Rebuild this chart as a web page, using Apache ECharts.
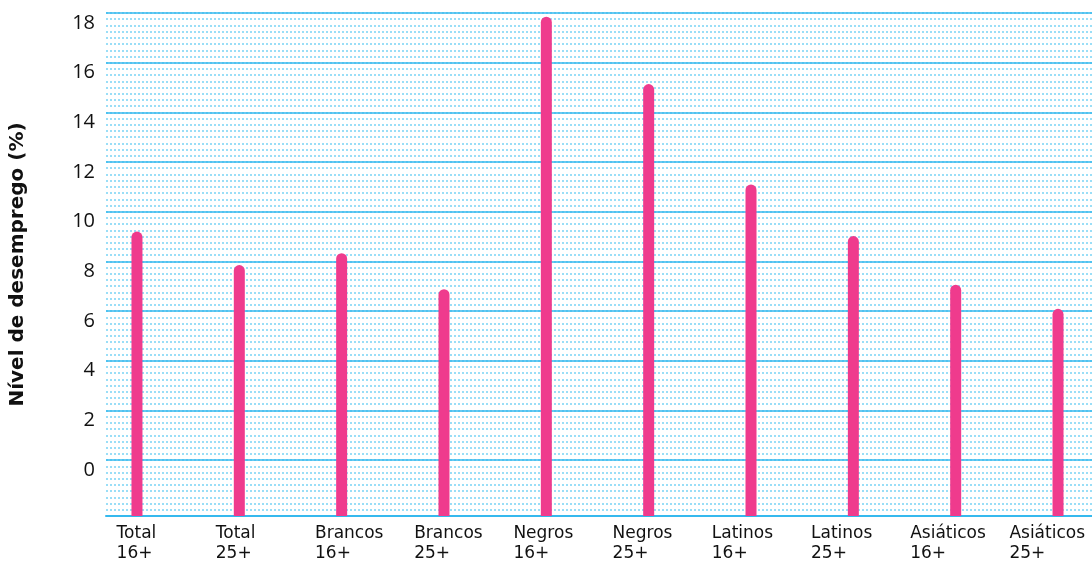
<!DOCTYPE html>
<html>
<head>
<meta charset="utf-8">
<script src="https://cdn.jsdelivr.net/npm/echarts@6/dist/echarts.min.js"></script>
<style>
  html, body { margin: 0; padding: 0; background: #fff; }
  #chart { width: 1092px; height: 563px; }
</style>
</head>
<body>
<div id="chart"></div>
<script>
const categories = ['Total\n16+', 'Total\n25+', 'Brancos\n16+', 'Brancos\n25+', 'Negros\n16+',
    'Negros\n25+', 'Latinos\n16+', 'Latinos\n25+', 'Asiáticos\n16+', 'Asiáticos\n25+'];
const rates = [9.2, 7.85, 8.33, 6.88, 17.85, 15.14, 11.1, 9.02, 7.06, 6.09];
const yMin = -2.25;
const yMax = 18;
const yStep = 0.25;

const font = '"DejaVu Sans", sans-serif';
const tickFont = '"Open Sans", sans-serif';
const pink = '#ef3b8d';
const blue = '#35b9ee';

let chart = echarts.init(document.querySelector('#chart'));

function isMajor(v) {
    return v >= 0 && Math.abs(v - Math.round(v / 2) * 2) < 1e-6;
}

// one colour per split line: solid blue only on 0, 2, 4 ... 18
let lineCount = Math.round((yMax - yMin) / yStep) + 1;
let majorColors = [];
for (let k = 0; k < lineCount; k++) {
    majorColors.push(isMajor(yMin + k * yStep) ? blue : 'rgba(0,0,0,0)');
}

let option = {
    animation: false,
    grid: [
        { left: 106, right: 0, top: 13, bottom: 47, outerBoundsMode: 'none' },
        { left: 85.8, width: 1023.4, top: 13, bottom: 47, outerBoundsMode: 'none' },
        { left: 67, width: 992, top: 13, bottom: 47, outerBoundsMode: 'none' }
    ],
    xAxis: [
        {
            gridIndex: 0, type: 'value', min: 0, max: 1,
            axisLine: { show: true, onZero: false, lineStyle: { color: blue, width: 2 } },
            axisTick: { show: false }, axisLabel: { show: false }, splitLine: { show: false }
        },
        { gridIndex: 1, type: 'category', data: categories, show: false },
        {
            gridIndex: 2, type: 'category', data: categories,
            axisLine: { show: false }, axisTick: { show: false },
            axisLabel: {
                align: 'left', margin: 8, fontFamily: font, fontSize: 17,
                lineHeight: 20, color: '#111'
            }
        }
    ],
    yAxis: [
        {
            gridIndex: 0, type: 'value', min: yMin, max: yMax, interval: yStep,
            name: 'Nível de desemprego (%)', nameLocation: 'middle', nameRotate: 90, nameGap: 78,
            nameTextStyle: { fontFamily: font, fontSize: 20, fontWeight: 'bold', color: '#111' },
            axisLine: { show: false }, axisTick: { show: false },
            axisLabel: {
                margin: 11, verticalAlign: 'top', fontFamily: tickFont, fontSize: 20, color: '#111',
                formatter: (v) => isMajor(v) ? String(Math.round(v)) : ''
            },
            splitLine: { lineStyle: { color: '#7ad3f5', width: 1.5, type: [2, 2] } }
        },
        {
            gridIndex: 0, type: 'value', min: yMin, max: yMax, interval: yStep,
            axisLine: { show: false }, axisTick: { show: false }, axisLabel: { show: false },
            splitLine: { lineStyle: { color: majorColors, width: 1.6 } }
        },
        { gridIndex: 1, type: 'value', min: yMin, max: yMax, show: false, splitLine: { show: false } },
        { gridIndex: 2, type: 'value', min: yMin, max: yMax, show: false, splitLine: { show: false } }
    ],
    series: [
        {
            type: 'custom',
            xAxisIndex: 1,
            yAxisIndex: 2,
            data: rates.map((v, i) => [i, v]),
            renderItem: function (params, api) {
                let top = api.coord([api.value(0), api.value(1)]);
                let base = api.coord([api.value(0), yMin]);
                let w = 11;
                return {
                    type: 'rect',
                    shape: { x: top[0] - w / 2, y: top[1], width: w, height: base[1] - top[1], r: [w / 2, w / 2, 0, 0] },
                    style: { fill: pink }
                };
            }
        }
    ]
};
chart.setOption(option);

window.onresize = function () {
    chart.resize();
}
</script>
</body>
</html>
